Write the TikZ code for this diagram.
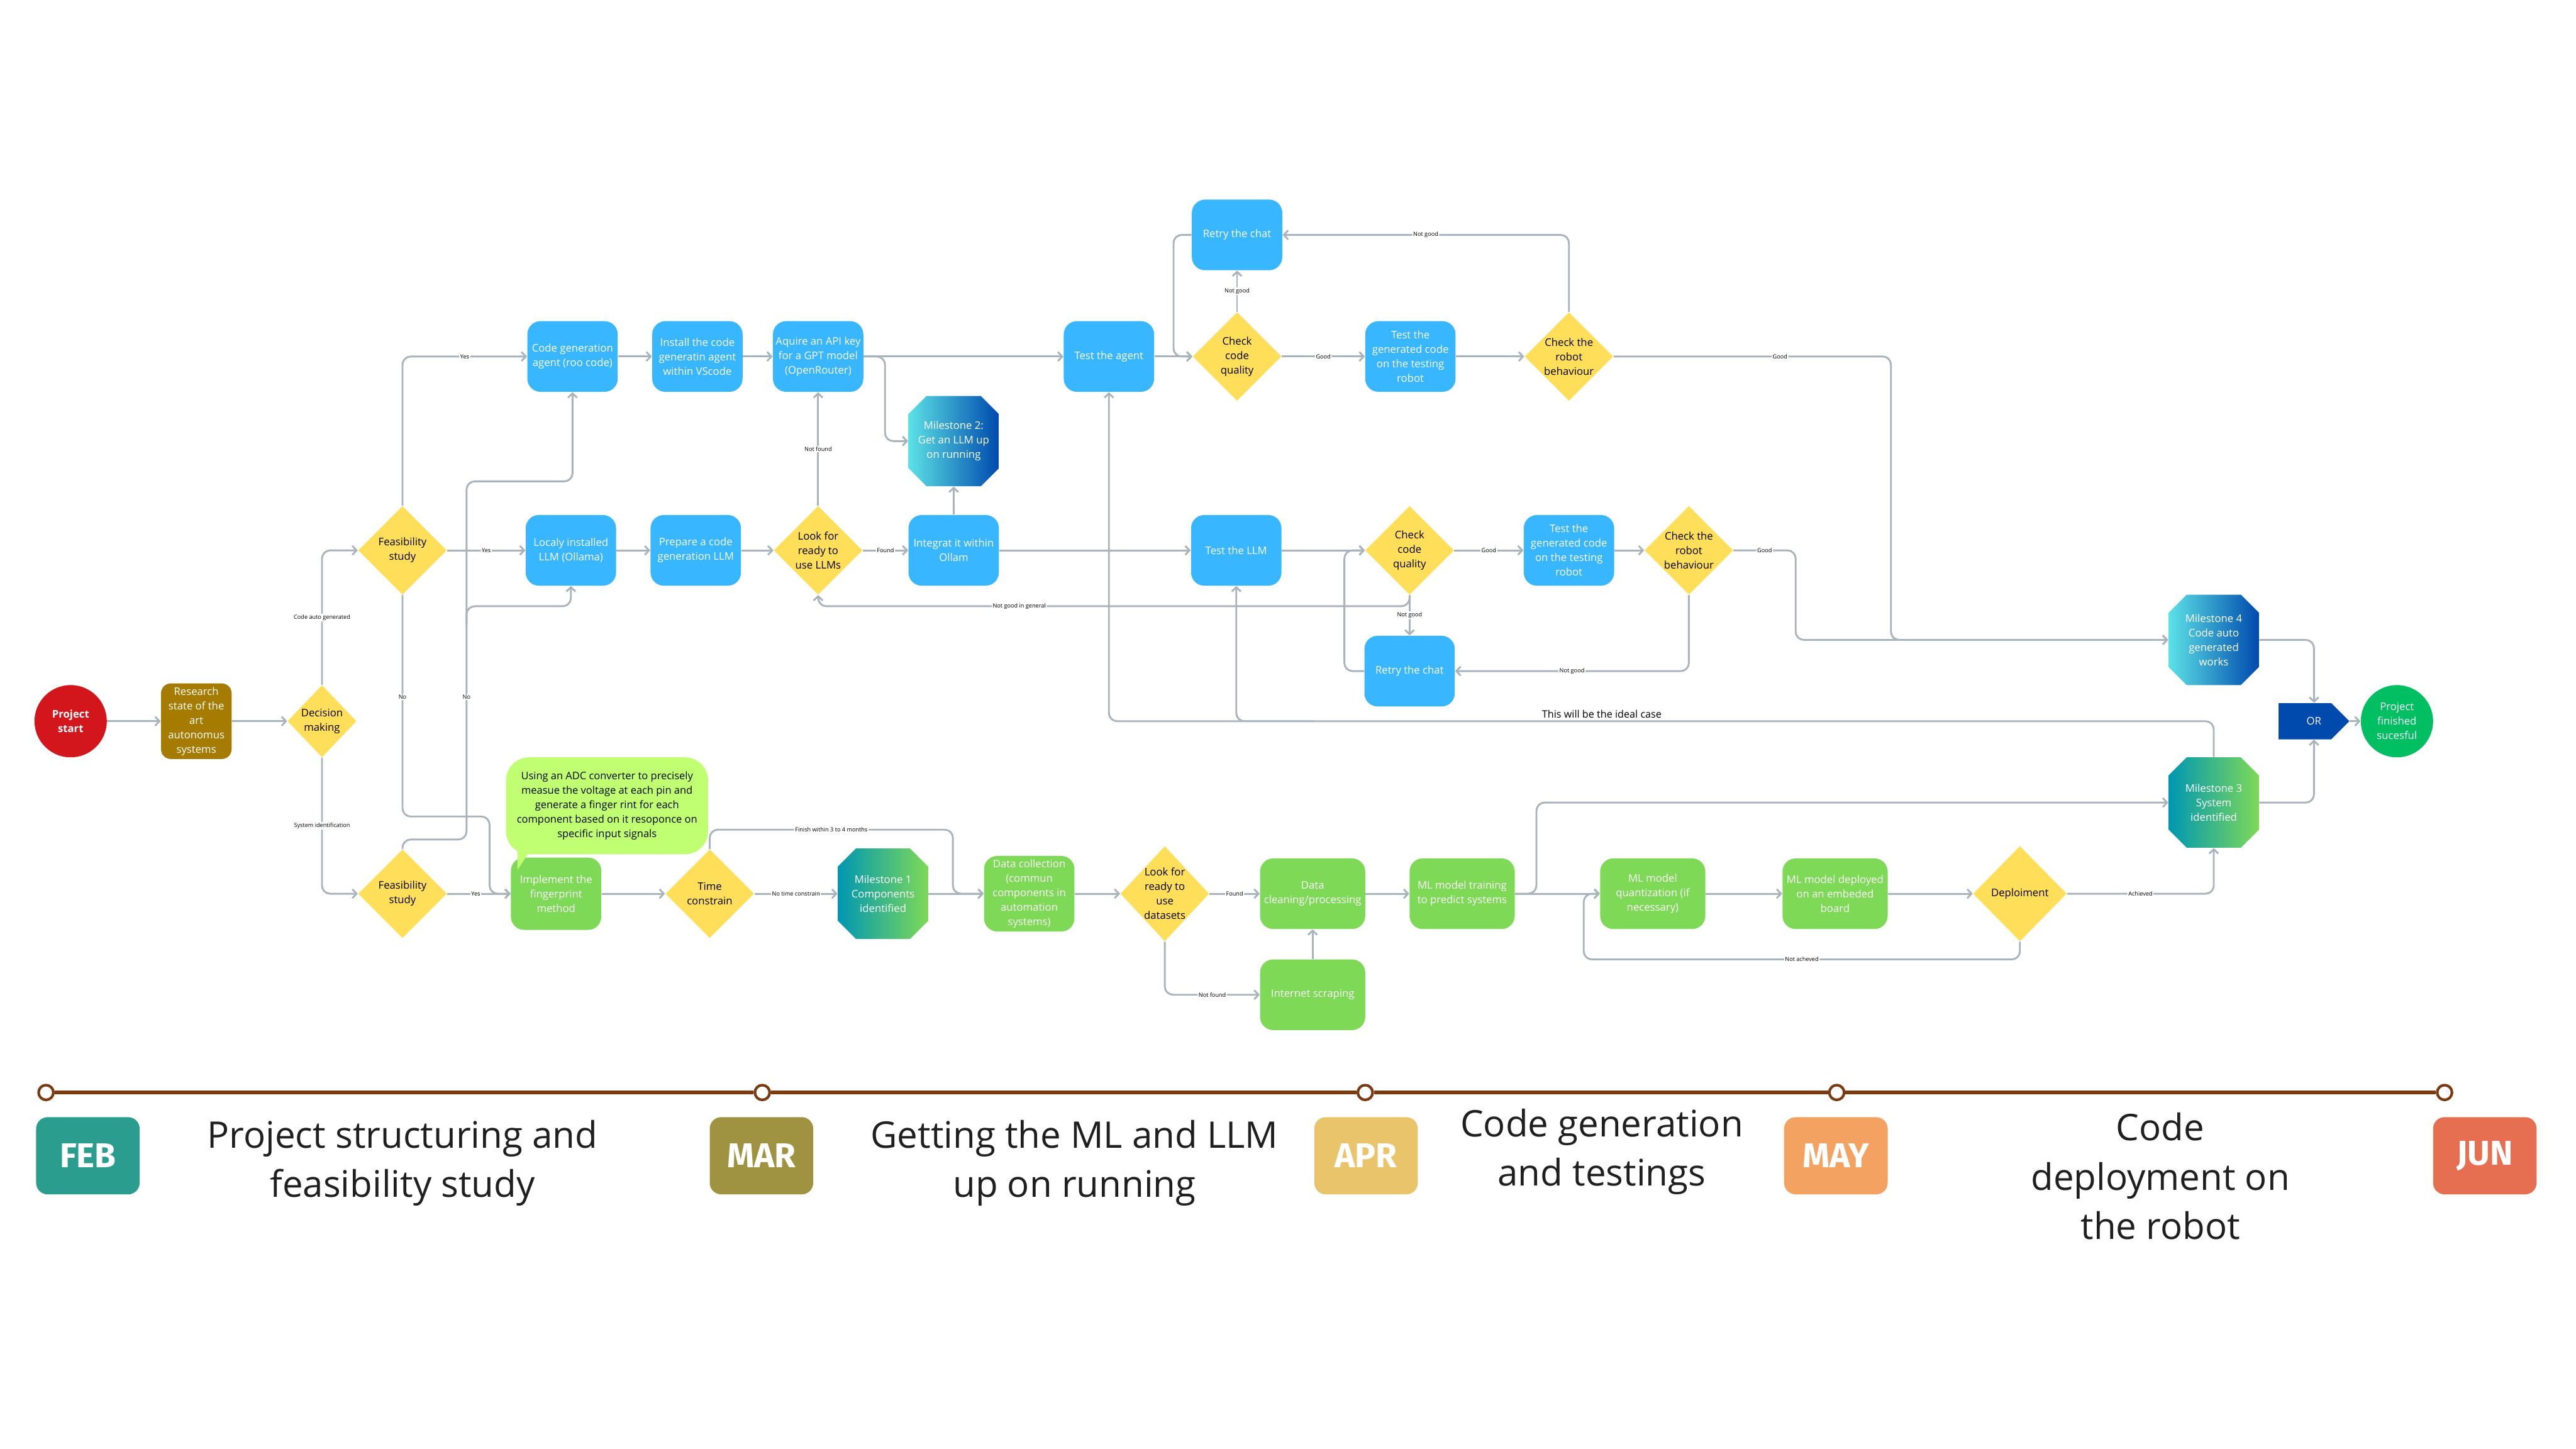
\documentclass[tikz,border=0pt]{standalone}
\usepackage{fontspec}
\setmainfont{Open Sans}
\newfontfamily\monthfont{Fira Sans}
\usetikzlibrary{shapes.geometric,arrows.meta}
\definecolor{cblue}{HTML}{38B6FF}
\definecolor{cyellow}{HTML}{FFDE59}
\definecolor{cgreen}{HTML}{7ED957}
\definecolor{clime}{HTML}{C1FF72}
\definecolor{cgold}{HTML}{A67C00}
\definecolor{cred}{HTML}{D2161C}
\definecolor{cfin}{HTML}{00BF63}
\definecolor{cdark}{HTML}{004AAD}
\definecolor{ccyan}{HTML}{5CE1E6}
\definecolor{cteal}{HTML}{0097B2}
\definecolor{cline}{HTML}{A9B3BB}
\definecolor{cbrown}{HTML}{7A3A12}
\definecolor{ctext}{HTML}{1F1F1F}
\definecolor{mfeb}{HTML}{2A9D8F}
\definecolor{mmar}{HTML}{9F9240}
\definecolor{mapr}{HTML}{E9C46A}
\definecolor{mmay}{HTML}{F4A261}
\definecolor{mjun}{HTML}{E76F51}
\tikzset{
  nfont/.style={font=\fontsize{6.4pt}{8.8pt}\selectfont},
  box/.style={rectangle, rounded corners=8pt, minimum width=55pt, minimum height=43pt, inner sep=0.5pt, align=center, text=white, nfont},
  bbox/.style={box, fill=cblue},
  gbox/.style={box, fill=cgreen, minimum width=64pt},
  dia/.style={diamond, fill=cyellow, inner sep=0pt, minimum width=54pt, minimum height=54pt},
  dtext/.style={align=center, text=black, inner sep=0pt, nfont},
  mstone/.style={rectangle, minimum width=55pt, minimum height=55pt, inner sep=0pt, align=center, text=white, nfont},
  conn/.style={draw=cline, line width=1.1pt, rounded corners=5pt, -{Straight Barb[length=2.6pt,width=5.5pt]}},
  lbl/.style={fill=white, inner sep=0.6pt, text=black, font=\fontsize{3.5pt}{4pt}\selectfont},
  tdot/.style={circle, draw=cbrown, line width=1.6pt, fill=white, minimum size=9pt, inner sep=0pt},
  tline/.style={draw=cbrown, line width=2.4pt},
  mbox/.style={rectangle, rounded corners=7pt, minimum width=63pt, minimum height=47pt, inner sep=0pt, text=white, font=\monthfont\bfseries\fontsize{21pt}{21pt}\selectfont},
  ttext/.style={align=center, text=ctext, inner sep=0pt, font=\fontsize{22.3pt}{30pt}\selectfont}
}
% octagon backdrop: #1 centre, #2 left colour, #3 right colour
\newcommand\octback[3]{%
  \begin{scope}[shift={#1}]
    \shade[left color=#2, right color=#3] (-16.5,-27.5) -- (16.5,-27.5) -- (27.5,-16.5) -- (27.5,16.5) -- (16.5,27.5) -- (-16.5,27.5) -- (-27.5,16.5) -- (-27.5,-16.5) -- cycle;
  \end{scope}}
\begin{document}
\begin{tikzpicture}[x=1pt,y=-1pt]
\fill[white] (0,0) rectangle (1568,882);
\useasboundingbox (0,0) rectangle (1568,882);

% ---------- start ----------
\node[circle, fill=cred, minimum size=44pt, inner sep=0pt, align=center, text=white, font=\fontsize{6.4pt}{8.8pt}\selectfont\bfseries] (start) at (43,439) {Project\\start};
\node[box, fill=cgold, minimum width=43pt, minimum height=46pt, rounded corners=6pt] (res) at (119.5,439) {Research\\state of the\\art\\autonomus\\systems};
\node[dia, minimum width=42pt, minimum height=44pt] (dec) at (196,439) {};
\node[dtext] (dect) at (dec) {Decision\\making};
\node[dia] (feas1) at (245,335) {};
\node[dtext] (feas1t) at (feas1) {Feasibility\\study};
\node[dia] (feas2) at (245,544) {};
\node[dtext] (feas2t) at (feas2) {Feasibility\\study};

% ---------- row A ----------
\node[bbox] (cg) at (348.5,217) {Code generation\\agent (roo code)};
\node[bbox] (inst) at (424.5,217) {Install the code\\generatin agent\\within VScode};
\node[bbox] (api) at (498,217) {Aquire an API key\\for a GPT model\\(OpenRouter)};
\node[bbox] (tagent) at (675,217) {Test the agent};
\node[dia] (cq1) at (753,217) {};
\node[dtext] (cq1t) at (cq1) {Check\\code\\quality};
\node[bbox] (retry1) at (753,143) {Retry the chat};
\node[bbox] (tgc1) at (858.5,217) {Test the\\generated code\\on the testing\\robot};
\node[dia] (cr1) at (955,217) {};
\node[dtext] (cr1t) at (cr1) {Check the\\robot\\behaviour};
\octback{(580.5,268.5)}{ccyan}{cdark}
\node[mstone] (ms2) at (580.5,268.5) {Milestone 2:\\Get an LLM up\\on running};

% ---------- row B ----------
\node[bbox] (local) at (347.5,335) {Localy installed\\LLM (Ollama)};
\node[bbox] (prep) at (423.5,335) {Prepare a code\\generation LLM};
\node[dia] (look1) at (498,335) {};
\node[dtext] (look1t) at (look1) {Look for\\ready to\\use LLMs};
\node[bbox] (integ) at (580.5,335) {Integrat it within\\Ollam};
\node[bbox] (tllm) at (752.5,335) {Test the LLM};
\node[dia] (cq2) at (858,335) {};
\node[dtext] (cq2t) at (cq2) {Check\\code\\quality};
\node[bbox] (tgc2) at (955,335) {Test the\\generated code\\on the testing\\robot};
\node[dia] (cr2) at (1028,335) {};
\node[dtext] (cr2t) at (cr2) {Check the\\robot\\behaviour};
\node[bbox] (retry2) at (858,408.5) {Retry the chat};

% ---------- right end ----------
\octback{(1347.5,389.5)}{ccyan}{cdark}
\node[mstone] (ms4) at (1347.5,389.5) {Milestone 4\\Code auto\\generated\\works};
\octback{(1347.5,488.5)}{cteal}{cgreen}
\node[mstone] (ms3) at (1347.5,488.5) {Milestone 3\\System\\identified};
\fill[cdark] (1387,428) -- (1419,428) -- (1430,439) -- (1419,450) -- (1387,450) -- cycle;
\node[minimum width=43pt, minimum height=22pt, inner sep=0pt, text=white, nfont] (or) at (1408.5,439) {OR\hspace{7pt}};
\node[circle, fill=cfin, minimum size=44pt, inner sep=0pt, align=center, text=white, nfont] (finish) at (1459,439) {Project\\finished\\sucesful};

% ---------- row D ----------
\node[gbox, minimum width=55pt, minimum height=44pt] (impl) at (338.5,544) {Implement the\\fingerprint\\method};
\node[rectangle, rounded corners=14pt, fill=clime, minimum width=123pt, minimum height=59pt, inner sep=0pt, align=center, text=black, font=\fontsize{6.3pt}{8.75pt}\selectfont] (bub) at (369.5,490.5) {Using an ADC converter to precisely\\measue the voltage at each pin and\\generate a finger rint for each\\component based on it resoponce on\\specific input signals};
\fill[clime] (315,512) -- (326.5,512) -- (315,529.5) -- cycle;
\node[dia] (time) at (432,544) {};
\node[dtext] (timet) at (time) {Time\\constrain};
\octback{(537.5,544)}{cteal}{cgreen}
\node[mstone] (ms1) at (537.5,544) {Milestone 1\\Components\\identified};
\node[gbox, minimum width=55pt, minimum height=46pt, inner sep=0pt] (datacol) at (626.5,544) {Data collection\\(commun\\components in\\automation\\systems)};
\node[dia, minimum height=58pt] (look2) at (709,544) {};
\node[dtext] (look2t) at (look2) {Look for\\ready to\\use\\datasets};
\node[gbox] (clean) at (799,544) {Data\\cleaning/processing};
\node[gbox] (train) at (890,544) {ML model training\\to predict systems};
\node[gbox] (quant) at (1006,544) {ML model\\quantization (if\\necessary)};
\node[gbox] (deploy) at (1117,544) {ML model deployed\\on an embeded\\board};
\node[dia, minimum width=57pt, minimum height=58pt] (depl) at (1229.5,544) {};
\node[dtext] (deplt) at (depl) {Deploiment};
\node[gbox] (scrape) at (799,605.5) {Internet scraping};

% ---------- connectors ----------
\draw[conn] (start) -- (res);
\draw[conn] (res) -- (dec);
\draw[conn] (dec.north) |- node[lbl,pos=0.25]{Code auto generated} (feas1.west);
\draw[conn] (dec.south) |- node[lbl,pos=0.25]{System identification} (feas2.west);
\draw[conn] (feas1.north) |- node[lbl,pos=0.75]{Yes} (cg.west);
\draw[conn] (feas1.east) -- node[lbl]{Yes} (local.west);
\draw[conn] (feas1.south) -- node[lbl,pos=0.46]{No} (245,497) -- (298,497) -- (298,544) -- (impl.west);
\draw[conn] (feas2.east) -- node[lbl,pos=0.45]{Yes} (impl.west);
\draw[conn] (feas2.north) |- (284,511) -- node[lbl,pos=0.61]{No} (284,369) -| (local.south);
\draw[conn] (284,380) -- (284,293) -| (cg.south);

\draw[conn] (cg) -- (inst);
\draw[conn] (inst) -- (api);
\draw[conn] (api) -- (tagent);
\draw[conn] (api.east) -- ++(13,0) |- (ms2.west);
\draw[conn] (local) -- (prep);
\draw[conn] (prep) -- (look1.west);
\draw[conn] (look1.east) -- node[lbl]{Found} (integ.west);
\draw[conn] (look1.north) -- node[lbl]{Not found} (api.south);
\draw[conn] (integ) -- (ms2);
\draw[conn] (integ) -- (tllm);

\draw[conn] (tagent) -- (cq1.west);
\draw[conn] (cq1.north) -- node[lbl]{Not good} (retry1.south);
\draw[conn] (retry1.west) -- ++(-11,0) |- (cq1.west);
\draw[conn] (cq1.east) -- node[lbl]{Good} (tgc1.west);
\draw[conn] (tgc1) -- (cr1.west);
\draw[conn] (cr1.north) |- node[lbl,pos=0.75]{Not good} (retry1.east);
\draw[conn] (cr1.east) -- node[lbl,pos=0.6]{Good} (1151,217) |- (ms4.west);

\draw[conn] (tllm) -- (cq2.west);
\draw[conn] (cq2.south) -- node[lbl]{Not good} (retry2.north);
\draw[conn] (cq2.south) -- (858,369) -- node[lbl,pos=0.66]{Not good in general} (498,369) -- (look1.south);
\draw[conn] (retry2.west) -- ++(-12,0) |- (cq2.west);
\draw[conn] (cq2.east) -- node[lbl]{Good} (tgc2.west);
\draw[conn] (tgc2) -- (cr2.west);
\draw[conn] (cr2.south) |- node[lbl,pos=0.75]{Not good} (retry2.east);
\draw[conn] (cr2.east) -- node[lbl]{Good} (1093,335) |- (ms4.west);

\draw[conn] (ms4.east) -| (or.north);
\draw[conn] (ms3.east) -| (or.south);
\draw[conn] (or.east) -- (finish.west);
\draw[conn] (ms3.north) |- (752.5,439) -- (tllm.south);
\draw[conn] (800,439) -| (tagent.south);
\node[anchor=south, inner sep=0.8pt, text=black, font=\fontsize{6.2pt}{7pt}\selectfont] (ideal) at (975,438) {This will be the ideal case};

\draw[conn] (impl) -- (time.west);
\draw[conn] (time.east) -- node[lbl]{No time constrain} (ms1.west);
\draw[conn] (time.north) |- node[lbl,pos=0.75]{Finish within 3 to 4 months} (580,505) |- (datacol.west);
\draw[conn] (ms1) -- (datacol);
\draw[conn] (datacol) -- (look2.west);
\draw[conn] (look2.east) -- node[lbl]{Found} (clean.west);
\draw[conn] (look2.south) |- node[lbl,pos=0.75]{Not found} (scrape.west);
\draw[conn] (scrape) -- (clean);
\draw[conn] (clean) -- (train);
\draw[conn] (train) -- (quant);
\draw[conn] (train.east) -- ++(13,0) |- (ms3.west);
\draw[conn] (quant) -- (deploy);
\draw[conn] (deploy) -- (depl.west);
\draw[conn] (depl.east) -| node[lbl,pos=0.25]{Achieved} (ms3.south);
\draw[conn] (depl.south) |- node[lbl,pos=0.75]{Not acheved} (964,584) |- (quant.west);

% ---------- timeline ----------
\node[tdot] (t1) at (28,665) {};
\node[tdot] (t2) at (464,665) {};
\node[tdot] (t3) at (831,665) {};
\node[tdot] (t4) at (1118,665) {};
\node[tdot] (t5) at (1488,665) {};
\draw[tline] (t1) -- (t2);
\draw[tline] (t2) -- (t3);
\draw[tline] (t3) -- (t4);
\draw[tline] (t4) -- (t5);
\node[mbox, fill=mfeb] (feb) at (53.5,703.5) {FEB};
\node[mbox, fill=mmar] (mar) at (463.5,703.5) {MAR};
\node[mbox, fill=mapr] (apr) at (831.5,703.5) {APR};
\node[mbox, fill=mmay] (may) at (1117.5,703.5) {MAY};
\node[mbox, fill=mjun] (jun) at (1512.5,703.5) {JUN};
\node[ttext] (p1) at (245,708) {Project structuring and\\feasibility study};
\node[ttext] (p2) at (654,708) {Getting the ML and LLM\\up on running};
\node[ttext] (p3) at (975,701) {Code generation\\and testings};
\node[ttext] (p4) at (1315,716) {Code\\deployment on\\the robot};
\end{tikzpicture}
\end{document}
